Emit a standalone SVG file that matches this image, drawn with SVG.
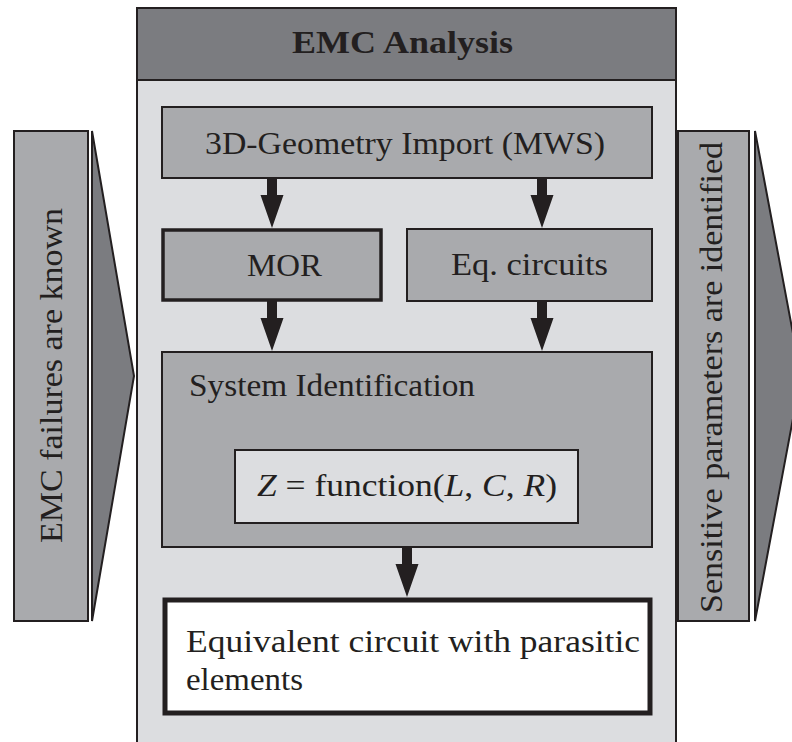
<svg xmlns="http://www.w3.org/2000/svg" width="792" height="742" viewBox="0 0 792 742">
  <style>
    .lbl { font-family: "Liberation Serif", "Times New Roman", serif; font-size: 32px; fill: #231f20; }
    .bold { font-weight: bold; }
    .it { font-style: italic; }
    .mid { fill: #a9aaad; stroke: #231f20; stroke-width: 2; }
    .dark { fill: #7b7c80; stroke: #231f20; stroke-width: 2; }
    .light { fill: #dcdde0; stroke: #231f20; stroke-width: 2; }
    .arrow { fill: #231f20; stroke: none; }
  </style>
  <rect width="792" height="742" fill="#ffffff"/>

  <!-- input condition: block arrow on the left -->
  <g id="input">
    <rect class="mid" x="14" y="131" width="74" height="490"/>
    <polygon class="dark" points="92,131 134,376 92,621"/>
    <text class="lbl" transform="translate(62,375.5) rotate(-90)" text-anchor="middle" textLength="335" lengthAdjust="spacingAndGlyphs">EMC failures are known</text>
  </g>

  <!-- output condition: block arrow on the right -->
  <g id="output">
    <rect class="mid" x="678" y="131" width="71" height="490"/>
    <polygon class="dark" points="755,131 801,376 755,621"/>
    <text class="lbl" transform="translate(722,377.5) rotate(-90)" text-anchor="middle" textLength="471" lengthAdjust="spacingAndGlyphs">Sensitive parameters are identified</text>
  </g>

  <!-- main analysis panel -->
  <g id="panel">
    <rect class="light" x="137" y="8" width="539" height="750"/>
    <rect class="dark" x="137" y="8" width="539" height="72"/>
    <text class="lbl bold" x="292" y="53" textLength="221" lengthAdjust="spacingAndGlyphs">EMC Analysis</text>
  </g>

  <g id="geometry">
    <rect class="mid" x="162" y="107" width="490" height="71"/>
    <text class="lbl" x="205" y="154" textLength="400" lengthAdjust="spacingAndGlyphs">3D-Geometry Import (MWS)</text>
  </g>

  <g id="mor">
    <rect class="mid" x="163" y="230" width="218" height="70" style="stroke-width:3.5"/>
    <text class="lbl" x="247" y="276" textLength="75" lengthAdjust="spacingAndGlyphs">MOR</text>
  </g>

  <g id="eqcircuits">
    <rect class="mid" x="407" y="229" width="245" height="72"/>
    <text class="lbl" x="451" y="275" textLength="157" lengthAdjust="spacingAndGlyphs">Eq. circuits</text>
  </g>

  <g id="sysid">
    <rect class="mid" x="162" y="352" width="490" height="195"/>
    <text class="lbl" x="189" y="396" textLength="286" lengthAdjust="spacingAndGlyphs">System Identification</text>
    <rect class="light" x="235" y="450" width="343" height="73"/>
    <text class="lbl" x="257" y="496" textLength="300" lengthAdjust="spacingAndGlyphs"><tspan class="it">Z</tspan> = function(<tspan class="it">L</tspan>, <tspan class="it">C</tspan>, <tspan class="it">R</tspan>)</text>
  </g>

  <g id="result">
    <rect x="165" y="600" width="485" height="113" fill="#ffffff" stroke="#231f20" stroke-width="5"/>
    <text class="lbl" x="186" y="652" textLength="454" lengthAdjust="spacingAndGlyphs">Equivalent circuit with parasitic</text>
    <text class="lbl" x="186" y="690" textLength="117" lengthAdjust="spacingAndGlyphs">elements</text>
  </g>

  <!-- flow arrows -->
  <g id="connectors">
    <polygon class="arrow" points="267,178 277,178 277,195 283.5,195 272,228 260.5,195 267,195"/>
    <polygon class="arrow" points="537,178 547,178 547,195 553.5,195 542,228 530.5,195 537,195"/>
    <polygon class="arrow" points="267,301 277,301 277,318 283.5,318 272,351 260.5,318 267,318"/>
    <polygon class="arrow" points="537,301 547,301 547,318 553.5,318 542,351 530.5,318 537,318"/>
    <polygon class="arrow" points="402,547 412,547 412,564 418.5,564 407,597 395.5,564 402,564"/>
  </g>
</svg>
